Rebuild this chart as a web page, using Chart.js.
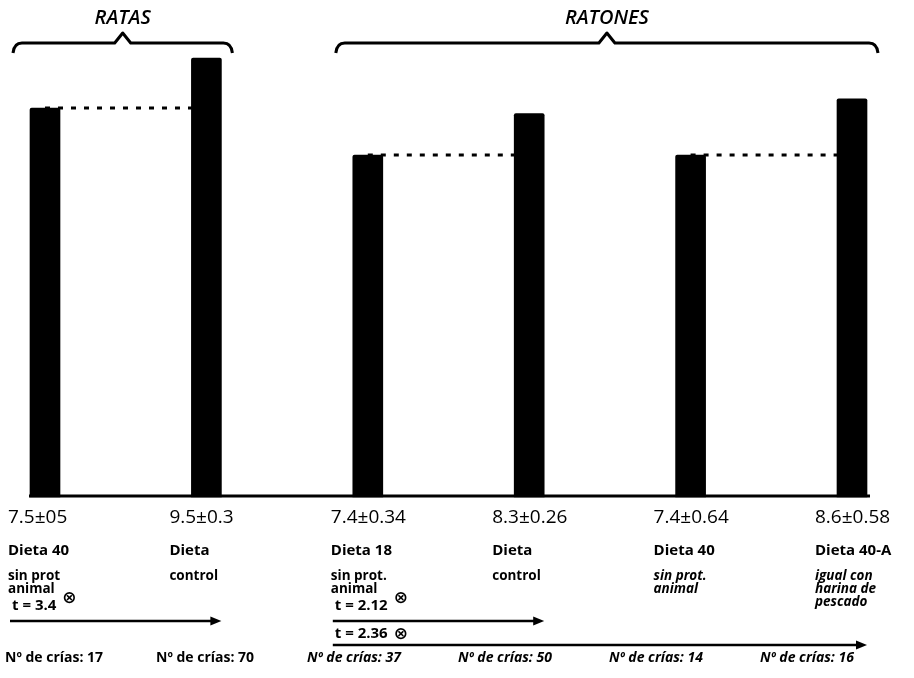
<!DOCTYPE html>
<html>
<head>
<meta charset="utf-8">
<script src="https://cdn.jsdelivr.net/npm/chart.js"></script>
<style>
  html, body { margin: 0; padding: 0; background: #fff; }
  canvas { display: block; }
</style>
</head>
<body>
<canvas id="dietChart" width="914" height="678"></canvas>
<script>
// bar heights as drawn (peso medio de crías)
var groups = ['Dieta 40', 'Dieta control', 'Dieta 18', 'Dieta control', 'Dieta 40', 'Dieta 40-A'];
var heights = [8.42, 9.5, 7.4, 8.3, 7.4, 8.62];
var valueLabels = ['7.5±05', '9.5±0.3', '7.4±0.34', '8.3±0.26', '7.4±0.64', '8.6±0.58'];
var dietLabels = ['Dieta 40', 'Dieta', 'Dieta 18', 'Dieta', 'Dieta 40', 'Dieta 40-A'];
var descLabels = [['sin prot', 'animal'], ['control'], ['sin prot.', 'animal'], ['control'], ['sin prot.', 'animal'], ['igual con', 'harina de', 'pescado']];
var italicDesc = [false, false, false, false, true, true];
var crias = [17, 70, 37, 50, 14, 16];
// species brackets: first and last bar index
var species = [{ name: 'RATAS', from: 0, to: 1 }, { name: 'RATONES', from: 2, to: 5 }];
// t tests: compared bars
var tTests = [{ from: 0, to: 1, t: '3.4' }, { from: 2, to: 3, t: '2.12' }, { from: 2, to: 5, t: '2.36' }];

// dotted reference lines from a bar top to the compared bar
function refLine(a, b) {
    var arr = heights.map(function () { return null; });
    arr[a] = heights[a];
    arr[b] = heights[a];
    return arr;
}

const FONT = '"Open Sans", "DejaVu Sans", sans-serif';

const annotations = {
    id: 'annotations',
    afterDraw(chart) {
        const ctx = chart.ctx;
        const xs = chart.scales.x;
        const px = (i) => xs.getPixelForValue(i);
        const base = chart.scales.y.getPixelForValue(0);
        ctx.save();
        ctx.fillStyle = '#000';
        ctx.strokeStyle = '#000';

        // baseline
        ctx.lineWidth = 3;
        ctx.beginPath();
        ctx.moveTo(px(0) - 16, base - 1);
        ctx.lineTo(px(heights.length - 1) + 18, base - 1);
        ctx.stroke();

        // species brackets and titles
        species.forEach(function (s) {
            var x1 = px(s.from) - 32;
            var x2 = px(s.to) + 26;
            var mid = (x1 + x2) / 2;
            ctx.lineWidth = 3;
            ctx.lineJoin = 'round';
            ctx.beginPath();
            ctx.moveTo(x1, 53);
            ctx.quadraticCurveTo(x1 + 1, 43, x1 + 9, 43);
            ctx.lineTo(mid - 8, 43);
            ctx.lineTo(mid, 33);
            ctx.lineTo(mid + 8, 43);
            ctx.lineTo(x2 - 9, 43);
            ctx.quadraticCurveTo(x2 - 1, 43, x2, 53);
            ctx.stroke();
            ctx.font = 'italic 600 20px ' + FONT;
            ctx.textAlign = 'center';
            ctx.textBaseline = 'middle';
            ctx.fillText(s.name, mid, 18);
        });

        // labels under each bar
        ctx.textAlign = 'left';
        ctx.textBaseline = 'middle';
        for (var i = 0; i < groups.length; i++) {
            var x = px(i) - 37;
            ctx.font = '500 19px ' + FONT;
            ctx.fillText(valueLabels[i], x, 518);
            ctx.font = 'bold 15px ' + FONT;
            ctx.fillText(dietLabels[i], x, 551);
            ctx.font = (italicDesc[i] ? 'italic ' : '') + 'bold 13.5px ' + FONT;
            descLabels[i].forEach(function (line, k) {
                ctx.fillText(line, x, 576 + k * 13);
            });
            ctx.font = (i > 1 ? 'italic ' : '') + 'bold 14px ' + FONT;
            ctx.fillText('Nº de crías: ' + crias[i], px(0) - 40 + i * 151, 658);
        }

        // t values and arrows
        tTests.forEach(function (tt, k) {
            var x1 = px(tt.from) - 35;
            var x2 = px(tt.to) + 15;
            var ty = k < 2 ? 606 : 634;
            var ay = k < 2 ? 621 : 645;
            ctx.font = 'bold 15px ' + FONT;
            ctx.fillText('t = ' + tt.t, x1 + 2, ty);
            var w = ctx.measureText('t = ' + tt.t).width;
            ctx.font = 'bold 17px ' + FONT;
            ctx.fillText('⊗', x1 + w + 8, k < 2 ? ty - 8 : ty);
            ctx.lineWidth = 2.5;
            ctx.beginPath();
            ctx.moveTo(x1, ay);
            ctx.lineTo(x2 - 6, ay);
            ctx.stroke();
            ctx.beginPath();
            ctx.moveTo(x2, ay);
            ctx.lineTo(x2 - 11, ay - 4.5);
            ctx.lineTo(x2 - 11, ay + 4.5);
            ctx.closePath();
            ctx.fill();
        });
        ctx.restore();
    }
};

const dotted = {
    type: 'line',
    borderColor: '#000',
    borderWidth: 3,
    borderDash: [5, 8],
    pointRadius: 0,
    spanGaps: false,
    clip: false,
    order: 2
};

const config = {
    type: 'bar',
    data: {
        labels: groups,
        datasets: [{
            data: heights,
            backgroundColor: '#000',
            barThickness: 30,
            borderRadius: 2,
            clip: false,
            order: 1
        },
        Object.assign({ data: refLine(0, 1) }, dotted),
        Object.assign({ data: refLine(2, 3) }, dotted),
        Object.assign({ data: refLine(4, 5) }, dotted)]
    },
    options: {
        responsive: false,
        animation: false,
        devicePixelRatio: 1,
        layout: {
            padding: { left: 45, right: 62, top: 35, bottom: 181 }
        },
        plugins: {
            legend: { display: false },
            tooltip: { enabled: false }
        },
        scales: {
            x: { display: false, offset: false, grid: { display: false } },
            y: { display: false, min: 0, max: 10 }
        }
    },
    plugins: [annotations]
};

new Chart(document.getElementById('dietChart'), config);
</script>
</body>
</html>
